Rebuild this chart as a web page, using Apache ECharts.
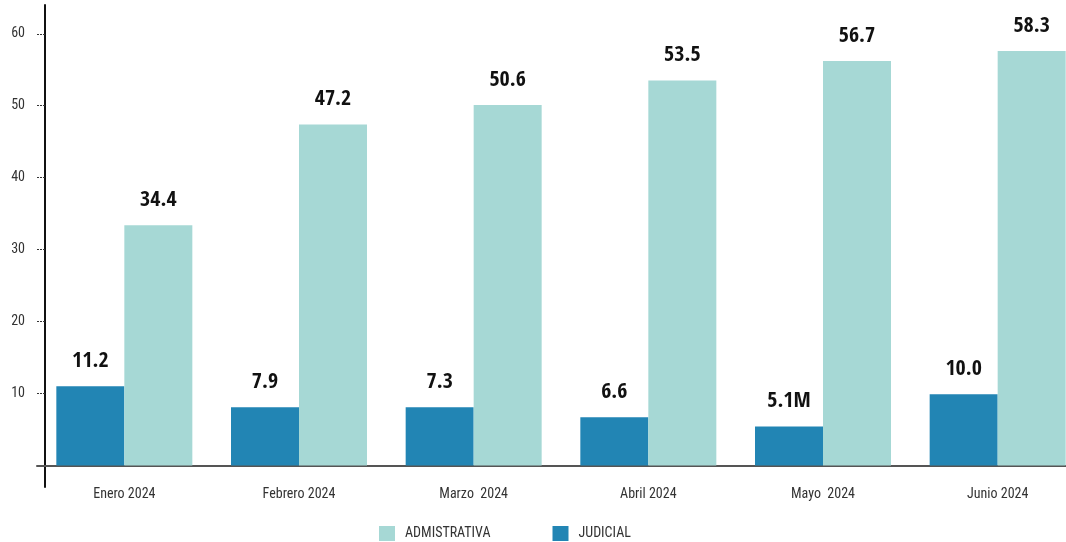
<!DOCTYPE html>
<html>
<head>
<meta charset="utf-8">
<script src="https://cdn.jsdelivr.net/npm/echarts@6/dist/echarts.min.js"></script>
<style>
  html, body { margin: 0; padding: 0; background: #fff; }
  #chart { width: 1066px; height: 542px; }
</style>
</head>
<body>
<div id="chart"></div>
<script>
const months = ['Enero 2024', 'Febrero 2024', 'Marzo  2024', 'Abril 2024', 'Mayo  2024', 'Junio 2024']
// bar heights as drawn
const judicial = [11.0, 8.1, 8.1, 6.7, 5.4, 9.9]
const administrativa = [33.4, 47.4, 50.1, 53.5, 56.2, 57.6]
// labels as printed above bars
const judicialLabels = ['11.2', '7.9', '7.3', '6.6', '5.1M', '10.0']
const adminLabels = ['34.4', '47.2', '50.6', '53.5', '56.7', '58.3']
const yTicks = [10, 20, 30, 40, 50, 60]

const font = '"Roboto Condensed", "DejaVu Sans Condensed", sans-serif'
const boldFont = '"Open Sans Condensed", "Roboto Condensed", sans-serif'

const chart = echarts.init(document.getElementById('chart'))

const barLabel = (texts) => ({
  show: true,
  position: 'top',
  distance: 14,
  fontFamily: boldFont,
  fontSize: 22,
  fontWeight: 'bold',
  color: '#111',
  formatter: (p) => texts[p.dataIndex],
})

chart.setOption({
  animation: false,
  textStyle: { fontFamily: font },
  grid: { left: 37, width: 1048, top: 5, bottom: 55, outerBoundsMode: 'none' },
  legend: {
    data: ['ADMISTRATIVA', 'JUDICIAL'],
    top: 526,
    left: 379,
    padding: 0,
    itemWidth: 16,
    itemHeight: 15,
    itemGap: 62,
    icon: 'rect',
    textStyle: { fontFamily: font, fontSize: 14, color: '#333', padding: [0, 0, 0, 5] },
  },
  xAxis: {
    type: 'category',
    data: months,
    axisLine: { onZero: true, lineStyle: { color: '#555', width: 2 } },
    axisTick: { show: false },
    axisLabel: { margin: 0, fontFamily: font, fontSize: 14, color: '#333' },
  },
  yAxis: {
    type: 'value',
    min: -3,
    max: 64,
    offset: -8,
    splitLine: { show: false },
    axisLine: { show: true, lineStyle: { color: '#111', width: 2 } },
    axisTick: {
      show: true,
      length: 9,
      customValues: yTicks,
      lineStyle: { color: '#333', type: [2, 1], width: 1 },
    },
    axisLabel: {
      margin: 20,
      customValues: yTicks,
      fontFamily: font,
      fontSize: 14,
      color: '#333',
    },
  },
  series: [
    {
      name: 'JUDICIAL',
      type: 'bar',
      data: judicial,
      barWidth: 68,
      barGap: '0%',
      itemStyle: { color: '#2285b4' },
      label: barLabel(judicialLabels),
    },
    {
      name: 'ADMISTRATIVA',
      type: 'bar',
      data: administrativa,
      barWidth: 68,
      itemStyle: { color: '#a6d8d5' },
      label: barLabel(adminLabels),
    },
  ],
})
</script>
</body>
</html>
